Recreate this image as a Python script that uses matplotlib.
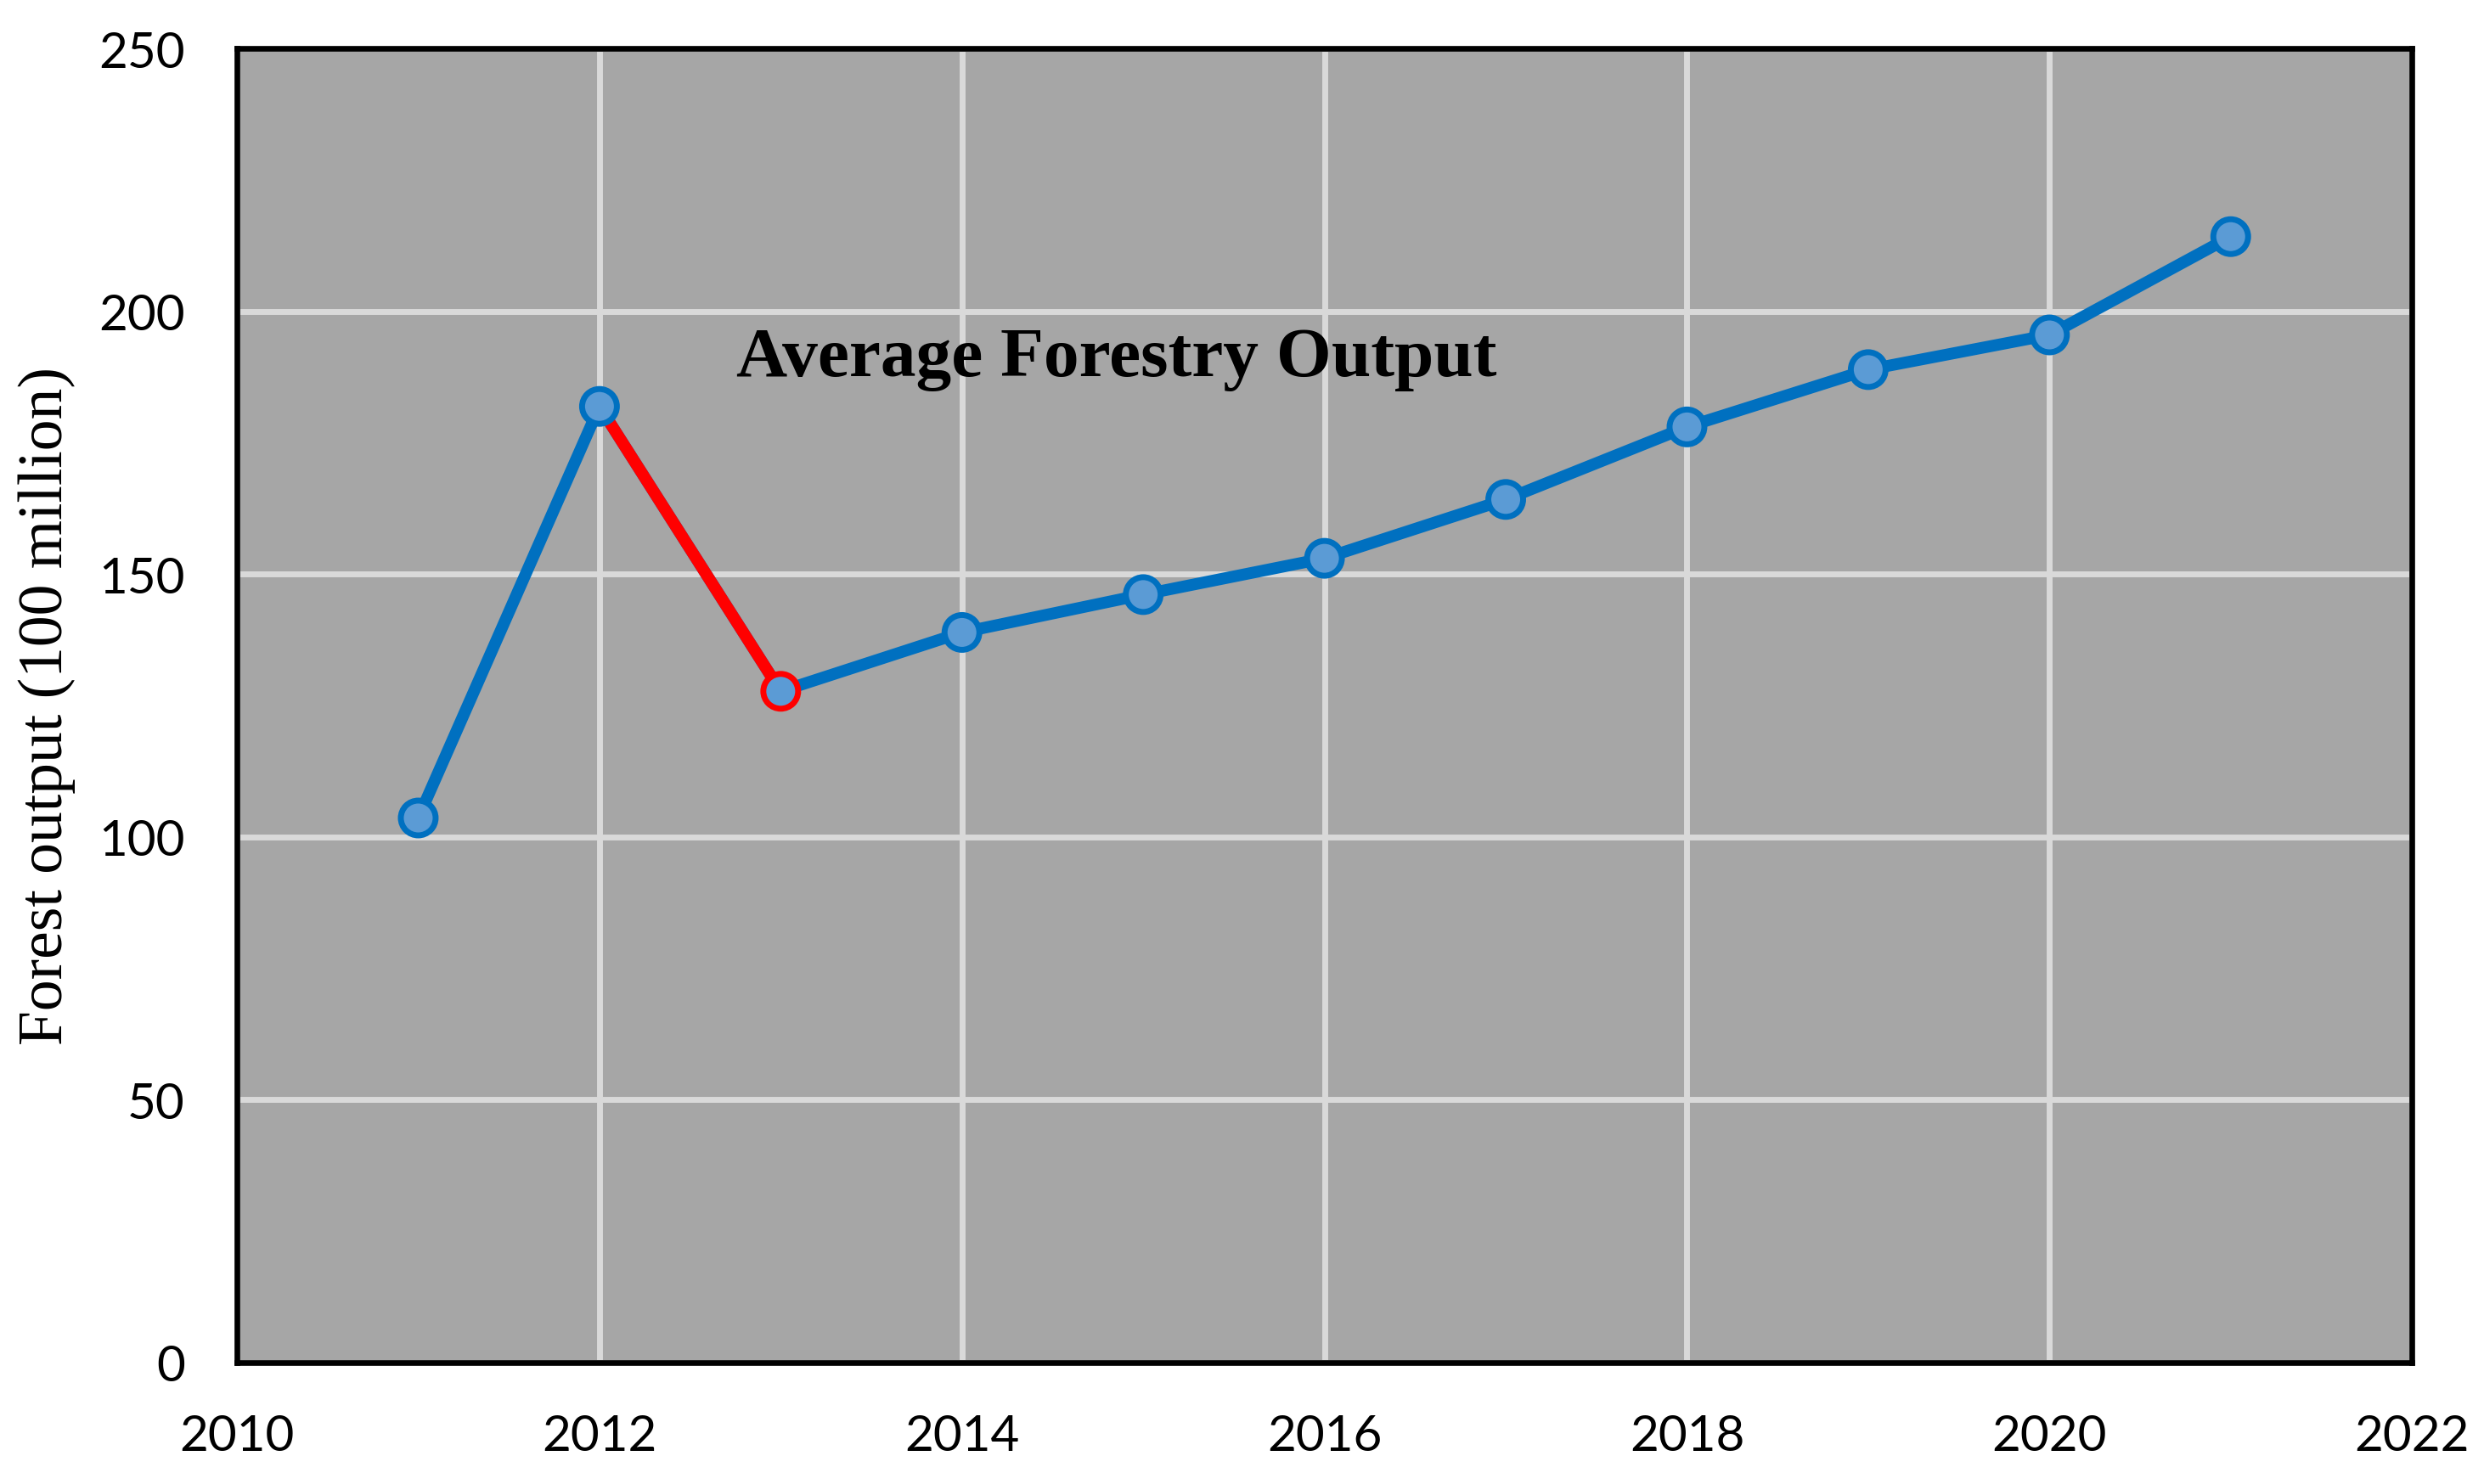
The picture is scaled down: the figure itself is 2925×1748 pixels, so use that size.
"""Average forestry output line chart, 2011-2021."""

import matplotlib
matplotlib.use("Agg")
import matplotlib.pyplot as plt

# data
years = [2011, 2012, 2013, 2014, 2015, 2016, 2017, 2018, 2019, 2020, 2021]
output = [103.6, 181.9, 127.7, 138.9, 146.1, 153.0, 164.2, 178.0, 188.9, 195.5, 214.2]
drop_idx = (1, 2)  # 2012 -> 2013 segment drawn in red

x_ticks = [2010, 2012, 2014, 2016, 2018, 2020, 2022]
y_ticks = [0, 50, 100, 150, 200, 250]

title = "Average Forestry Output"
ylabel = "Forest output (100 million)"

BLUE = "#0070c0"
FACE = "#5b9bd5"
RED = "#ff0000"

fig = plt.figure(figsize=(29.25, 17.49), dpi=100)
ax = fig.add_axes([0.0954, 0.0818, 0.9756 - 0.0954 - 0.0046, 0.9668 - 0.0818])

ax.set_facecolor("#a6a6a6")
ax.set_xlim(2010, 2022)
ax.set_ylim(0, 250)
ax.set_xticks(x_ticks)
ax.set_yticks(y_ticks)
ax.grid(True, color="#d9d9d9", linewidth=5)
ax.set_axisbelow(True)

for sp in ax.spines.values():
    sp.set_linewidth(4.8)
    sp.set_color("black")
    sp.set_zorder(5)

ax.tick_params(axis="both", length=0, labelsize=42)
ax.tick_params(axis="x", pad=43)
ax.tick_params(axis="y", pad=44)
for lab in ax.get_xticklabels() + ax.get_yticklabels():
    lab.set_fontfamily("Lato")

ax.plot(years, output, color=BLUE, linewidth=10, zorder=3, solid_capstyle="round")
i0, i1 = drop_idx
ax.plot(years[i0:i1 + 1], output[i0:i1 + 1], color=RED, linewidth=10, zorder=3.5)

edges = [RED if i == i1 else BLUE for i in range(len(years))]
ax.scatter(years, output, s=870, facecolor=FACE, edgecolors=edges,
           linewidths=5, zorder=4)

ax.text(0.4045, 0.764, title, transform=ax.transAxes, ha="center", va="center",
        fontsize=60, fontweight="bold", fontfamily="Liberation Serif")

ax.set_ylabel(ylabel, fontsize=53, fontfamily="Liberation Serif", labelpad=20)

fig.savefig("out.png", dpi=100)
